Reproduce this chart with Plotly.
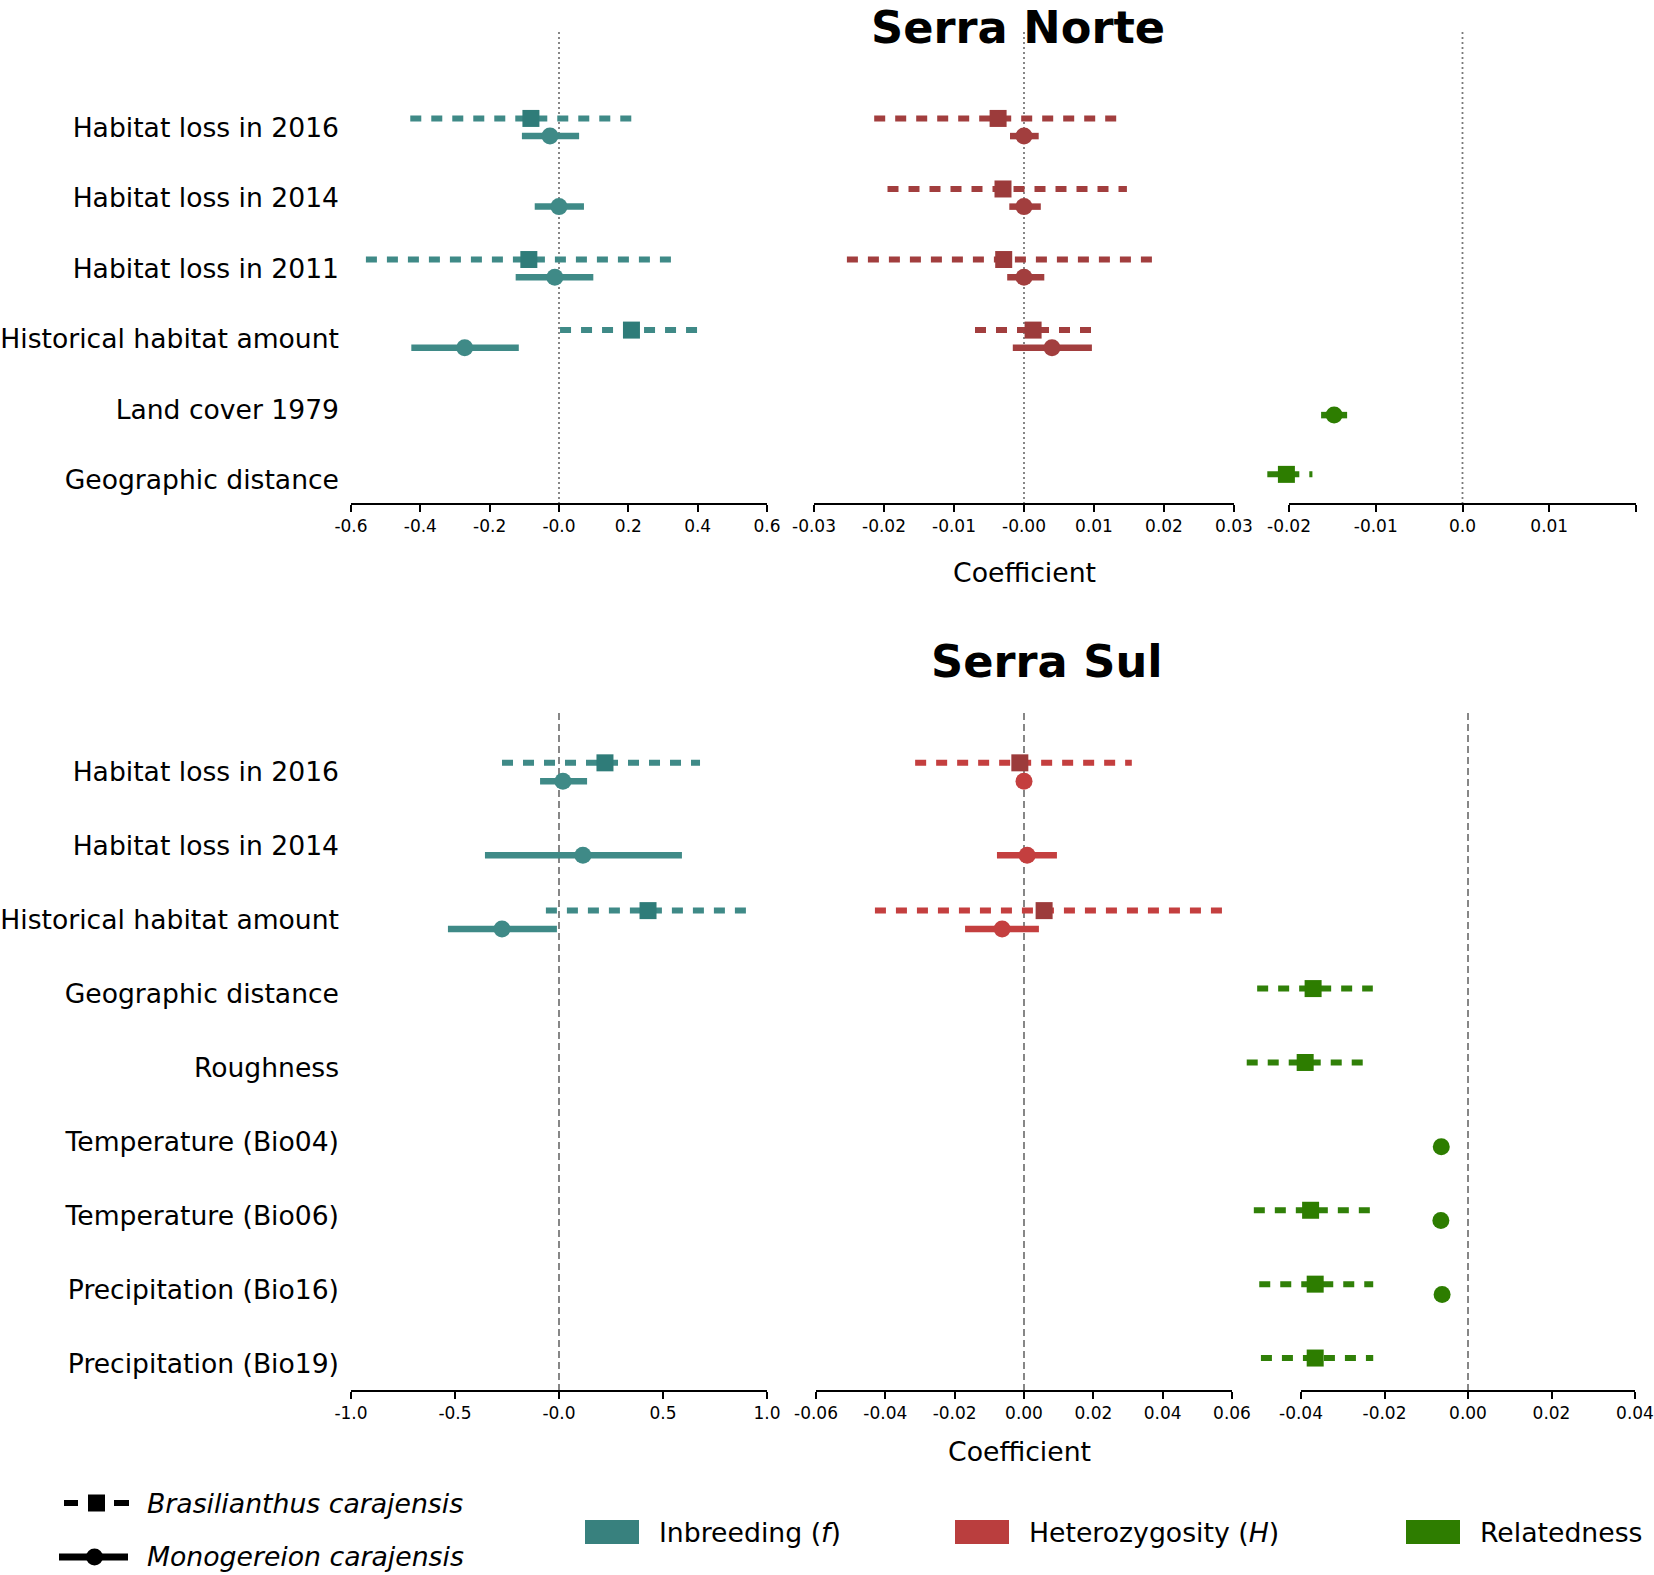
import plotly.graph_objects as go

W, H = 1654, 1575

# ---- rows (top to bottom) ----
norte_rows = ["Habitat loss in 2016", "Habitat loss in 2014", "Habitat loss in 2011",
              "Historical habitat amount", "Land cover 1979", "Geographic distance"]
sul_rows = ["Habitat loss in 2016", "Habitat loss in 2014", "Historical habitat amount",
            "Geographic distance", "Roughness", "Temperature (Bio04)",
            "Temperature (Bio06)", "Precipitation (Bio16)", "Precipitation (Bio19)"]

# ---- Serra Norte: inbreeding (f) ----
norte_inb_bc_rows = ["Habitat loss in 2016", "Habitat loss in 2011", "Historical habitat amount"]
norte_inb_bc_est = [-0.081, -0.087, 0.209]
norte_inb_bc_lo = [-0.429, -0.557, 0.003]
norte_inb_bc_hi = [0.214, 0.342, 0.409]
norte_inb_mc_rows = ["Habitat loss in 2016", "Habitat loss in 2014", "Habitat loss in 2011",
                     "Historical habitat amount"]
norte_inb_mc_est = [-0.026, 0.0, -0.012, -0.272]
norte_inb_mc_lo = [-0.107, -0.070, -0.125, -0.426]
norte_inb_mc_hi = [0.058, 0.072, 0.099, -0.116]

# ---- Serra Norte: heterozygosity (H) ----
norte_het_bc_rows = ["Habitat loss in 2016", "Habitat loss in 2014", "Habitat loss in 2011",
                     "Historical habitat amount"]
norte_het_bc_est = [-0.0037, -0.0030, -0.0029, 0.0013]
norte_het_bc_lo = [-0.0214, -0.0195, -0.0253, -0.0070]
norte_het_bc_hi = [0.0140, 0.0147, 0.0191, 0.0100]
norte_het_mc_rows = ["Habitat loss in 2016", "Habitat loss in 2014", "Habitat loss in 2011",
                     "Historical habitat amount"]
norte_het_mc_est = [0.0, 0.0, 0.0, 0.0040]
norte_het_mc_lo = [-0.0020, -0.0021, -0.0024, -0.0016]
norte_het_mc_hi = [0.0021, 0.0024, 0.0029, 0.0097]

# ---- Serra Norte: relatedness ----
norte_rel_bc_rows = ["Geographic distance"]
norte_rel_bc_est = [-0.0203]
norte_rel_bc_lo = [-0.0225]
norte_rel_bc_hi = [-0.0173]
norte_rel_mc_rows = ["Land cover 1979"]
norte_rel_mc_est = [-0.0148]
norte_rel_mc_lo = [-0.0163]
norte_rel_mc_hi = [-0.0133]

# ---- Serra Sul: inbreeding (f) ----
sul_inb_bc_rows = ["Habitat loss in 2016", "Historical habitat amount"]
sul_inb_bc_est = [0.221, 0.428]
sul_inb_bc_lo = [-0.274, -0.063]
sul_inb_bc_hi = [0.678, 0.909]
sul_inb_mc_rows = ["Habitat loss in 2016", "Habitat loss in 2014", "Historical habitat amount"]
sul_inb_mc_est = [0.019, 0.115, -0.274]
sul_inb_mc_lo = [-0.091, -0.356, -0.534]
sul_inb_mc_hi = [0.135, 0.591, -0.010]

# ---- Serra Sul: heterozygosity (H) ----
sul_het_bc_rows = ["Habitat loss in 2016", "Historical habitat amount"]
sul_het_bc_est = [-0.0012, 0.0058]
sul_het_bc_lo = [-0.0314, -0.0430]
sul_het_bc_hi = [0.0311, 0.0589]
sul_het_mc_rows = ["Habitat loss in 2016", "Habitat loss in 2014", "Historical habitat amount"]
sul_het_mc_est = [0.0, 0.0009, -0.0063]
sul_het_mc_lo = [-0.0012, -0.0078, -0.0170]
sul_het_mc_hi = [0.0018, 0.0095, 0.0043]

# ---- Serra Sul: relatedness ----
sul_rel_bc_rows = ["Geographic distance", "Roughness", "Temperature (Bio06)",
                   "Precipitation (Bio16)", "Precipitation (Bio19)"]
sul_rel_bc_est = [-0.0371, -0.0390, -0.0377, -0.0366, -0.0366]
sul_rel_bc_lo = [-0.0505, -0.0530, -0.0513, -0.0500, -0.0496]
sul_rel_bc_hi = [-0.0228, -0.0247, -0.0233, -0.0227, -0.0227]
sul_rel_mc_rows = ["Temperature (Bio04)", "Temperature (Bio06)", "Precipitation (Bio16)"]
sul_rel_mc_est = [-0.0064, -0.0065, -0.0062]
sul_rel_mc_lo = [-0.0066, -0.0067, -0.0064]
sul_rel_mc_hi = [-0.0062, -0.0063, -0.0060]

# ---- tick labels ----
norte_inb_ticks = [-0.6, -0.4, -0.2, 0.0, 0.2, 0.4, 0.6]
norte_inb_labels = ["-0.6", "-0.4", "-0.2", "-0.0", "0.2", "0.4", "0.6"]
norte_het_ticks = [-0.03, -0.02, -0.01, 0.0, 0.01, 0.02, 0.03]
norte_het_labels = ["-0.03", "-0.02", "-0.01", "-0.00", "0.01", "0.02", "0.03"]
norte_rel_ticks = [-0.02, -0.01, 0.0, 0.01, 0.02]
norte_rel_labels = ["-0.02", "-0.01", "0.0", "0.01", "0.02"]
sul_inb_ticks = [-1.0, -0.5, 0.0, 0.5, 1.0]
sul_inb_labels = ["-1.0", "-0.5", "-0.0", "0.5", "1.0"]
sul_het_ticks = [-0.06, -0.04, -0.02, 0.0, 0.02, 0.04, 0.06]
sul_het_labels = ["-0.06", "-0.04", "-0.02", "0.00", "0.02", "0.04", "0.06"]
sul_rel_ticks = [-0.04, -0.02, 0.0, 0.02, 0.04]
sul_rel_labels = ["-0.04", "-0.02", "0.00", "0.02", "0.04"]

TEAL_L, TEAL_M = "#3f8a87", "#2f7c79"
RED_L, RED_M = "#a23e3e", "#9c3b3b"
RED2_L = "#c43f3f"
GREEN_L, GREEN_M = "#308008", "#2d7d00"
FONT = "DejaVu Sans"


def px_x(p):
    return p / W


def px_y(p):
    return 1 - p / H


fig = go.Figure()


def add_species(rows_all, rows, est, lo, hi, xa, ya, lcol, mcol, dashed, off):
    idx = [rows_all.index(r) + (-off if dashed else off) for r in rows]
    xs, ys = [], []
    for yy, a, b in zip(idx, lo, hi):
        xs += [a, b, None]
        ys += [yy, yy, None]
    fig.add_trace(go.Scatter(
        x=xs, y=ys, xaxis=xa, yaxis=ya, mode="lines", hoverinfo="skip",
        line=dict(color=lcol, width=6 if dashed else 6.5,
                  dash="11px,10px" if dashed else "solid"),
        showlegend=False))
    fig.add_trace(go.Scatter(
        x=est, y=idx, xaxis=xa, yaxis=ya, mode="markers", cliponaxis=False,
        marker=dict(symbol="square" if dashed else "circle", size=17,
                    color=mcol, line=dict(width=0)),
        showlegend=False))


panels = [
    ("x", "y", norte_rows,
     (norte_inb_bc_rows, norte_inb_bc_est, norte_inb_bc_lo, norte_inb_bc_hi),
     (norte_inb_mc_rows, norte_inb_mc_est, norte_inb_mc_lo, norte_inb_mc_hi),
     TEAL_L, TEAL_M, TEAL_L, TEAL_L, 0.125),
    ("x2", "y2", norte_rows,
     (norte_het_bc_rows, norte_het_bc_est, norte_het_bc_lo, norte_het_bc_hi),
     (norte_het_mc_rows, norte_het_mc_est, norte_het_mc_lo, norte_het_mc_hi),
     RED_L, RED_M, RED_L, RED_L, 0.125),
    ("x3", "y3", norte_rows,
     (norte_rel_bc_rows, norte_rel_bc_est, norte_rel_bc_lo, norte_rel_bc_hi),
     (norte_rel_mc_rows, norte_rel_mc_est, norte_rel_mc_lo, norte_rel_mc_hi),
     GREEN_L, GREEN_M, GREEN_L, GREEN_M, 0.08),
    ("x4", "y4", sul_rows,
     (sul_inb_bc_rows, sul_inb_bc_est, sul_inb_bc_lo, sul_inb_bc_hi),
     (sul_inb_mc_rows, sul_inb_mc_est, sul_inb_mc_lo, sul_inb_mc_hi),
     TEAL_L, TEAL_M, TEAL_L, TEAL_L, 0.125),
    ("x5", "y5", sul_rows,
     (sul_het_bc_rows, sul_het_bc_est, sul_het_bc_lo, sul_het_bc_hi),
     (sul_het_mc_rows, sul_het_mc_est, sul_het_mc_lo, sul_het_mc_hi),
     RED2_L, RED_M, RED2_L, RED2_L, 0.125),
    ("x6", "y6", sul_rows,
     (sul_rel_bc_rows, sul_rel_bc_est, sul_rel_bc_lo, sul_rel_bc_hi),
     (sul_rel_mc_rows, sul_rel_mc_est, sul_rel_mc_lo, sul_rel_mc_hi),
     GREEN_L, GREEN_M, GREEN_L, GREEN_M, 0.07),
]

for xa, ya, rows_all, bc, mc, bl, bm, ml, mm, off in panels:
    add_species(rows_all, *mc, xa, ya, ml, mm, dashed=False, off=off)
    add_species(rows_all, *bc, xa, ya, bl, bm, dashed=True, off=off)

# ---- axes ----
top_dom = [px_y(504), px_y(32)]
bot_dom = [px_y(1391), px_y(710)]
# (pixel left, pixel right, value left, value right)
x_specs = [
    (351, 767, -0.6, 0.6),
    (814, 1234, -0.03, 0.03),
    (1289, 1636, -0.02, 0.02),
    (351, 767, -1.0, 1.0),
    (816, 1232, -0.06, 0.06),
    (1301, 1635, -0.04, 0.04),
]
x_pad_left = [0, 0, -0.0236, 0, 0, -0.0545]  # marks run past the axis start here
x_ticks = [(norte_inb_ticks, norte_inb_labels), (norte_het_ticks, norte_het_labels),
           (norte_rel_ticks, norte_rel_labels), (sul_inb_ticks, sul_inb_labels),
           (sul_het_ticks, sul_het_labels), (sul_rel_ticks, sul_rel_labels)]
y_ranges = [[5.34, -1.35]] * 3 + [[8.376, -0.84]] * 3

layout = {}
shapes = []
for i in range(6):
    n = "" if i == 0 else str(i + 1)
    pl, pr, vl, vr = x_specs[i]
    scale = (pr - pl) / (vr - vl)
    lo_v = x_pad_left[i] if x_pad_left[i] else vl
    dom_l = pl - (vl - lo_v) * scale
    tv, tt = x_ticks[i]
    layout["xaxis" + n] = dict(
        domain=[px_x(dom_l), px_x(pr)], range=[lo_v, vr], anchor="y" + n,
        showline=False, ticks="outside", ticklen=7, tickwidth=1.5, tickcolor="black",
        tickvals=tv, ticktext=tt, tickfont=dict(size=17, color="black", family=FONT),
        showgrid=False, zeroline=False, fixedrange=True, automargin=False)
    shapes.append(dict(type="line", xref="x" + n, yref="y" + n + " domain",
                       x0=vl, x1=vr, y0=0, y1=0,
                       line=dict(color="black", width=1.8)))
    rows_all = norte_rows if i < 3 else sul_rows
    ya = dict(domain=top_dom if i < 3 else bot_dom, range=y_ranges[i], anchor="x" + n,
              showline=False, showgrid=False, zeroline=False, fixedrange=True,
              automargin=False)
    if i in (0, 3):
        ya.update(tickvals=list(range(len(rows_all))), ticktext=rows_all,
                  ticks="", tickfont=dict(size=26.6, color="black", family=FONT),
                  ticklabelstandoff=11)
    else:
        ya.update(showticklabels=False)
    layout["yaxis" + n] = ya
    shapes.append(dict(type="line", xref="x" + n, yref="y" + n + " domain",
                       x0=0, x1=0, y0=0, y1=1, layer="below",
                       line=dict(color="#7a7a7a", width=1.8,
                                 dash="2px,3px" if i < 3 else "7px,4px")))

annotations = [
    dict(text="<b>Serra Norte</b>", x=px_x(1018), y=px_y(28), font=dict(size=44.7)),
    dict(text="<b>Serra Sul</b>", x=px_x(1047), y=px_y(662), font=dict(size=44.7)),
    dict(text="Coefficient", x=px_x(1024), y=px_y(572), font=dict(size=26.7)),
    dict(text="Coefficient", x=px_x(1020), y=px_y(1451), font=dict(size=26.7)),
]
for a in annotations:
    a.update(xref="paper", yref="paper", showarrow=False, xanchor="center", yanchor="middle")

# ---- legend (drawn) ----
legend_species = [("<i>Brasilianthus carajensis</i>", 1503), ("<i>Monogereion carajensis</i>", 1556)]
for txt, yy in legend_species:
    annotations.append(dict(text=txt, x=px_x(145), y=px_y(yy), xref="paper", yref="paper",
                            showarrow=False, xanchor="left", yanchor="middle",
                            font=dict(size=26.7)))
for x0, x1 in [(64, 78), (114, 129)]:
    shapes.append(dict(type="line", xref="paper", yref="paper", x0=px_x(x0), x1=px_x(x1),
                       y0=px_y(1503), y1=px_y(1503), line=dict(color="black", width=6)))
shapes.append(dict(type="rect", xref="paper", yref="paper", x0=px_x(88), x1=px_x(105),
                   y0=px_y(1511.5), y1=px_y(1494.5), fillcolor="black", line=dict(width=0)))
shapes.append(dict(type="line", xref="paper", yref="paper", x0=px_x(59), x1=px_x(128),
                   y0=px_y(1557), y1=px_y(1557), line=dict(color="black", width=7)))
shapes.append(dict(type="circle", xref="paper", yref="paper", x0=px_x(86), x1=px_x(103),
                   y0=px_y(1565.5), y1=px_y(1548.5), fillcolor="black", line=dict(width=0)))

legend_colors = [("Inbreeding (<i>f</i>)", "#38817e", 585), ("Heterozygosity (<i>H</i>)", "#ba3e3e", 955),
                 ("Relatedness", "#2e7d00", 1406)]
for txt, col, x0 in legend_colors:
    shapes.append(dict(type="rect", xref="paper", yref="paper", x0=px_x(x0), x1=px_x(x0 + 54),
                       y0=px_y(1544), y1=px_y(1520), fillcolor=col, line=dict(width=0)))
    annotations.append(dict(text=txt, x=px_x(x0 + 72), y=px_y(1532), xref="paper", yref="paper",
                            showarrow=False, xanchor="left", yanchor="middle",
                            font=dict(size=26.7)))

fig.update_layout(
    width=W, height=H, margin=dict(l=0, r=0, t=0, b=0, autoexpand=False),
    paper_bgcolor="white", plot_bgcolor="white",
    font=dict(family=FONT, color="black"),
    showlegend=False, shapes=shapes, annotations=annotations, **layout)

fig.write_html("out.html", post_script="document.body.style.margin='0';",
               config={"displayModeBar": False})
